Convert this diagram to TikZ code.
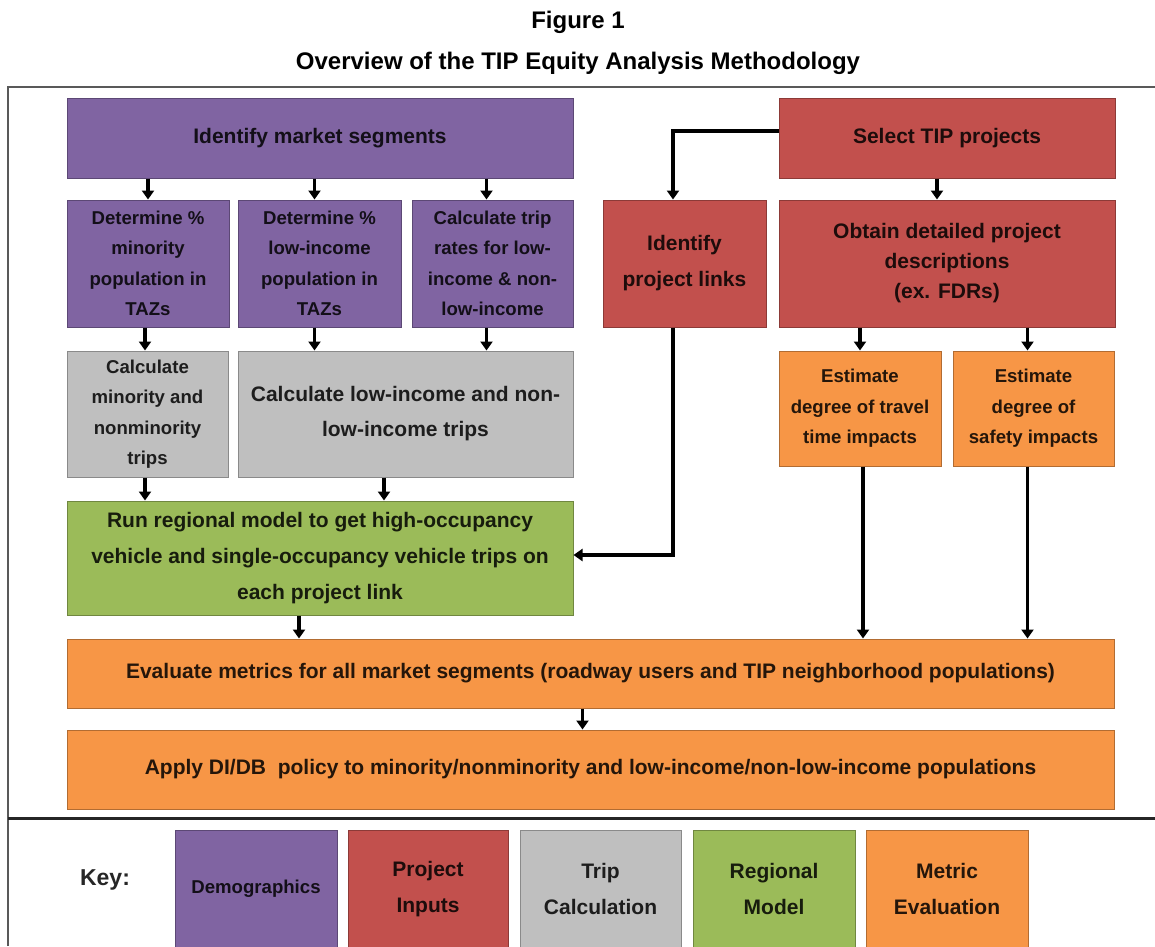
\documentclass[tikz,border=0pt]{standalone}
\usepackage{fontspec}
\setmainfont{Liberation Sans}
\usetikzlibrary{arrows.meta}
\definecolor{pur}{HTML}{8064A2}
\definecolor{red2}{HTML}{C2504D}
\definecolor{gry}{HTML}{BFBFBF}
\definecolor{grn}{HTML}{9BBB59}
\definecolor{org}{HTML}{F79646}
\tikzset{
  box/.style={draw=#1!72!black, fill=#1, text=#1!15!black, line width=1pt,
    inner sep=0pt, align=center},
  big/.style={font=\fontsize{21}{36}\selectfont\bfseries},
  bigc/.style={font=\fontsize{21}{30}\selectfont\bfseries},
  small/.style={font=\fontsize{18.6}{30.5}\selectfont\bfseries},
  arr/.style={line width=3.3pt, -{Triangle[width=12pt,length=9pt]}},
  ln/.style={line width=3.3pt}
}
\begin{document}
\begin{tikzpicture}[x=1pt,y=-1pt]
\useasboundingbox (0,0) rectangle (1155,946);
\clip (0,0) rectangle (1155,946);
\fill[white] (0,0) rectangle (1155,946);

% title
\node[font=\fontsize{24}{28}\selectfont\bfseries] (t1) at (578,22) {Figure 1};
\node[font=\fontsize{24}{28}\selectfont\bfseries] (t2) at (578,63) {Overview of the TIP Equity Analysis Methodology};

% frame
\draw[line width=1.5pt, black!65] (8,946) -- (8,87) -- (1155,87);
\draw[line width=3pt, black!85] (8,818) -- (1155,818);

% row 1
\node[box=pur, big, minimum width=506, minimum height=80] (ims) at (320,138) {Identify market segments};
\node[box=red2, big, minimum width=336, minimum height=80] (sel) at (947,138) {Select TIP projects};

% row 2
\node[box=pur, small, minimum width=162, minimum height=127] (dm) at (148,263.5) {Determine \%\\minority\\population in\\TAZs};
\node[box=pur, small, minimum width=163, minimum height=127] (dl) at (319.5,263.5) {Determine \%\\low-income\\population in\\TAZs};
\node[box=pur, small, minimum width=161, minimum height=127] (ct) at (492.5,263.5) {Calculate trip\\rates for low-\\income \& non-\\low-income};
\node[box=red2, big, minimum width=163, minimum height=127] (ipl) at (684.5,263.5) {Identify\\project links};
\node[box=red2, bigc, minimum width=336, minimum height=127] (obt) at (947,263.5) {Obtain detailed project\\descriptions\\(ex. FDRs)};

% row 3
\node[box=gry, small, minimum width=161, minimum height=126] (cm) at (147.5,414) {Calculate\\minority and\\nonminority\\trips};
\node[box=gry, big, font=\fontsize{21}{35}\selectfont\bfseries, minimum width=335, minimum height=126] (cl) at (405.5,414) {Calculate low-income and non-\\low-income trips};
\node[box=org, small, minimum width=162, minimum height=115] (tt) at (860,408.5) {Estimate\\degree of travel\\time impacts};
\node[box=org, small, minimum width=161, minimum height=115] (sf) at (1033.5,408.5) {Estimate\\degree of\\safety impacts};

% row 4
\node[box=grn, big, minimum width=506, minimum height=114] (rm) at (320,558) {Run regional model to get high-occupancy\\vehicle and single-occupancy vehicle trips on\\each project link};

% rows 5-6
\node[box=org, big, minimum width=1047, minimum height=69] (ev) at (590.5,673.5) {Evaluate metrics for all market segments (roadway users and TIP neighborhood populations)};
\node[box=org, big, minimum width=1047, minimum height=79] (ap) at (590.5,769.5) {Apply DI/DB~ policy to minority/nonminority and low-income/non-low-income populations};

% key
\node[font=\fontsize{23}{28}\selectfont\bfseries, text=black!85] (key) at (105,880) {Key:};
\node[box=pur, font=\fontsize{18.6}{36}\selectfont\bfseries, minimum width=162, minimum height=118] (k1) at (256,889) {Demographics};
\node[box=red2, big, minimum width=160, minimum height=118] (k2) at (428,889) {Project\\Inputs};
\node[box=gry, big, minimum width=161, minimum height=118] (k3) at (600.5,889) {Trip\\Calculation};
\node[box=grn, big, minimum width=162, minimum height=118] (k4) at (774,889) {Regional\\Model};
\node[box=org, big, minimum width=162, minimum height=118] (k5) at (947,889) {Metric\\Evaluation};

% arrows row1 -> row2
\draw[arr] (dm.north |- ims.south) -- (dm.north);
\draw[arr] ([xshift=-5pt]dl.north |- ims.south) -- ([xshift=-5pt]dl.north);
\draw[arr] ([xshift=-6pt]ct.north |- ims.south) -- ([xshift=-6pt]ct.north);
\draw[arr] ([xshift=-10pt]sel.south) -- ([xshift=-10pt]obt.north);
\draw[arr] ([yshift=7pt]sel.west) -| ([xshift=-11.5pt]ipl.north);

% row2 -> row3
\draw[arr] ([xshift=-3pt]dm.south) -- ([xshift=-3pt]dm.south |- cm.north);
\draw[arr] ([xshift=-5pt]dl.south) -- ([xshift=-5pt]dl.south |- cl.north);
\draw[arr] ([xshift=-6pt]ct.south) -- ([xshift=-6pt]ct.south |- cl.north);
\draw[arr] (tt.north |- obt.south) -- (tt.north);
\draw[arr] ([xshift=-6pt]sf.north |- obt.south) -- ([xshift=-6pt]sf.north);

% row3 -> green
\draw[arr] ([xshift=-2.5pt]cm.south) -- ([xshift=-2.5pt]cm.south |- rm.north);
\draw[arr] ([xshift=-21.5pt]cl.south) -- ([xshift=-21.5pt]cl.south |- rm.north);
\draw[arr] ([xshift=-11.5pt]ipl.south) |- ([yshift=3pt]rm.east);

% to evaluate
\draw[arr] ([xshift=-21pt]rm.south) -- ([xshift=-21pt]rm.south |- ev.north);
\draw[arr] ([xshift=3pt]tt.south) -- ([xshift=3pt]tt.south |- ev.north);
\draw[arr] ([xshift=-6pt]sf.south) -- ([xshift=-6pt]sf.south |- ev.north);
\draw[arr] ([xshift=-8pt]ev.south) -- ([xshift=-8pt]ap.north);
\end{tikzpicture}
\end{document}
